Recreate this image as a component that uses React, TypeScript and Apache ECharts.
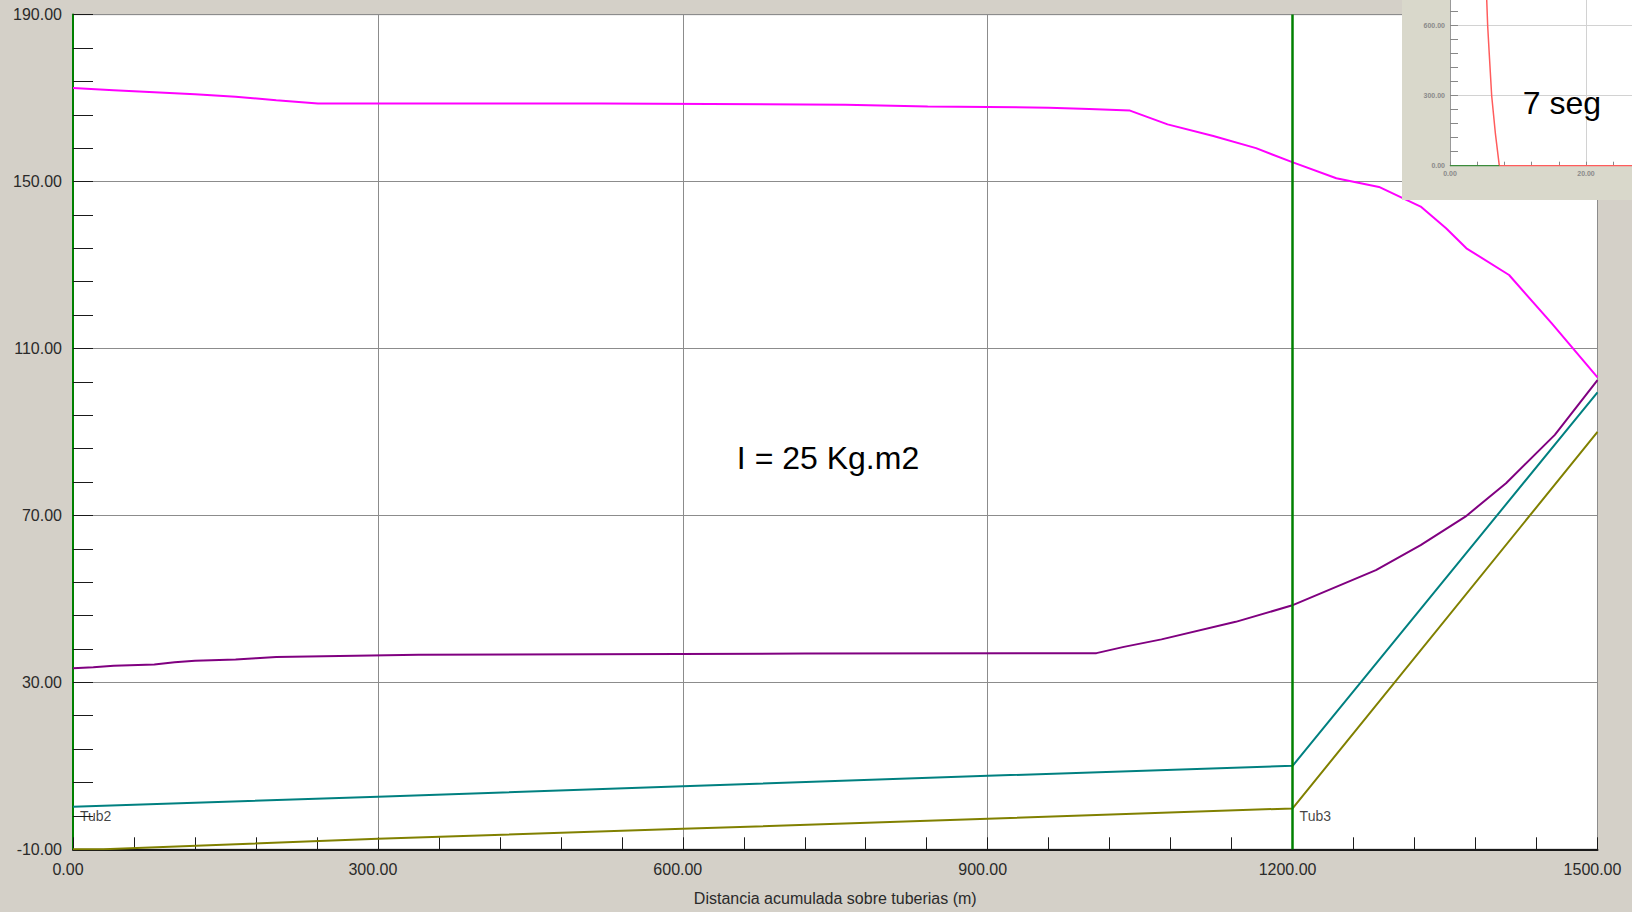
import React, { useEffect, useRef } from "react";
import * as echarts from "echarts";

// ---- Main chart data (distance m, head m) ----
const xTicks = { min: 0, max: 1500, step: 300 };
const yTicks = { min: -10, max: 190, step: 40 };

const envolventeMaxima: [number, number][] = [
  [0, 172.4], [40, 171.9], [80, 171.4], [120, 170.9], [160, 170.3], [200, 169.5],
  [241, 168.7], [520, 168.7], [760, 168.4], [841, 168.0], [960, 167.7], [1000, 167.4],
  [1040, 167.0], [1077, 163.7], [1122, 160.9], [1164, 158.0], [1199, 154.7],
  [1243, 150.8], [1285, 148.7], [1326, 144.0], [1351, 138.8], [1371, 134.0],
  [1413, 127.6], [1455, 116.0], [1500, 103.1],
];

const envolventeMinima: [number, number][] = [
  [0, 33.4], [20, 33.6], [40, 34.0], [80, 34.3], [100, 34.8], [120, 35.2], [160, 35.5],
  [180, 35.8], [200, 36.1], [340, 36.6], [720, 36.9], [1007, 37.0], [1034, 38.5],
  [1071, 40.3], [1144, 44.5], [1199, 48.4], [1282, 56.9], [1326, 62.9], [1370, 69.7],
  [1410, 77.7], [1458, 89.3], [1500, 102.4],
];

const lineaTeal: [number, number][] = [
  [0, 0.2], [300, 2.6], [600, 5.1], [900, 7.6], [1200, 10.0], [1500, 99.5],
];

const lineaOliva: [number, number][] = [
  [0, -10], [30, -10], [300, -7.5], [600, -5.1], [900, -2.7], [1200, -0.2], [1500, 90.0],
];

const nodos = [
  { x: 0, y: -2, name: "Tub2" },
  { x: 1200, y: -2, name: "Tub3" },
];

const xAxisName = "Distancia acumulada sobre tuberias (m)";
const inerciaTexto = "I = 25 Kg.m2";

// ---- Inset chart data (time s, value) ----
const insetX = { min: 0, max: 40, step: 20 };
const insetY = { min: 0, max: 900, step: 300 };
const insetRojo: [number, number][] = [
  [5.4, 710], [5.54, 600], [5.74, 496], [6.13, 300], [6.67, 139], [7.25, 0], [28, 0],
];
const insetVerde: [number, number][] = [
  [0, 0], [7.25, 0],
];
const insetTexto = "7 seg";

const FONT = "Liberation Sans, Arial, sans-serif";
const fmt2 = (v: number) => v.toFixed(2);

export default function App() {
  const ref = useRef<HTMLDivElement>(null);

  useEffect(() => {
    if (!ref.current) return;
    const chart = echarts.init(ref.current, undefined, { renderer: "svg" });

    const mainLine = (data: [number, number][], color: string, extra: any = {}) => ({
      type: "line",
      xAxisIndex: 0,
      yAxisIndex: 0,
      data,
      symbol: "none",
      showSymbol: false,
      silent: true,
      z: 2,
      lineStyle: { color, width: 2 },
      ...extra,
    });

    const option: any = {
      animation: false,
      backgroundColor: "#D4D0C8",
      textStyle: { fontFamily: FONT },
      grid: [
        {
          left: 73, top: 14.6, right: 34.5, bottom: 62.7,
          outerBoundsMode: "none", containLabel: false,
          show: true, backgroundColor: "#ffffff", borderColor: "#555555", borderWidth: 1,
        },
        {
          left: 1450, top: -44.3, right: -90, bottom: 746.3,
          outerBoundsMode: "none", containLabel: false,
          show: true, backgroundColor: "#ffffff", borderWidth: 0, z: 11,
        },
      ],
      xAxis: [
        {
          type: "value", gridIndex: 0,
          min: xTicks.min, max: xTicks.max, interval: xTicks.step,
          axisLine: { show: true, onZero: false, lineStyle: { color: "#1a1a1a", width: 2 } },
          axisTick: { show: true, inside: true, length: 12, lineStyle: { color: "#1a1a1a", width: 1 } },
          minorTick: { show: true, splitNumber: 5, length: 12, lineStyle: { color: "#1a1a1a", width: 1 } },
          splitLine: { show: true, lineStyle: { color: "#8c8c8c", width: 1 } },
          axisLabel: {
            formatter: fmt2, fontSize: 16, color: "#2a2a2a", margin: 12,
            padding: [0, 10, 0, 0], fontFamily: FONT,
          },
          name: xAxisName, nameLocation: "middle", nameGap: 41,
          nameTextStyle: { fontSize: 16, color: "#2a2a2a", fontFamily: FONT },
        },
        {
          type: "value", gridIndex: 1, z: 12,
          min: insetX.min, max: insetX.max, interval: insetX.step,
          axisLine: { show: true, onZero: false, lineStyle: { color: "#999999", width: 1 } },
          axisTick: { show: true, inside: true, length: 4, lineStyle: { color: "#888888" } },
          minorTick: { show: true, splitNumber: 5, length: 4, lineStyle: { color: "#888888" } },
          splitLine: { show: true, lineStyle: { color: "#d2d2d2" } },
          axisLabel: {
            formatter: fmt2, fontSize: 7, fontWeight: "bold", color: "#8a8a8a",
            margin: 4, showMaxLabel: false, fontFamily: FONT,
          },
        },
      ],
      yAxis: [
        {
          type: "value", gridIndex: 0,
          min: yTicks.min, max: yTicks.max, interval: yTicks.step,
          axisLine: { show: true, onZero: false, lineStyle: { color: "#008000", width: 2 } },
          axisTick: { show: true, inside: true, length: 20, lineStyle: { color: "#1a1a1a", width: 1 } },
          minorTick: { show: true, splitNumber: 5, length: 20, lineStyle: { color: "#1a1a1a", width: 1 } },
          splitLine: { show: true, lineStyle: { color: "#8c8c8c", width: 1 } },
          axisLabel: { formatter: fmt2, fontSize: 16, color: "#2a2a2a", margin: 11, fontFamily: FONT },
        },
        {
          type: "value", gridIndex: 1, z: 12,
          min: insetY.min, max: insetY.max, interval: insetY.step,
          axisLine: { show: true, onZero: false, lineStyle: { color: "#999999", width: 1 } },
          axisTick: { show: true, inside: true, length: 8, lineStyle: { color: "#888888" } },
          minorTick: { show: true, splitNumber: 5, length: 8, lineStyle: { color: "#888888" } },
          splitLine: { show: true, lineStyle: { color: "#d2d2d2" } },
          axisLabel: {
            formatter: fmt2, fontSize: 7, fontWeight: "bold", color: "#8a8a8a",
            margin: 5, showMaxLabel: false, fontFamily: FONT,
          },
        },
      ],
      series: [
        mainLine(lineaOliva, "#808000"),
        mainLine(lineaTeal, "#008080"),
        mainLine(envolventeMinima, "#800080"),
        mainLine(envolventeMaxima, "#FF00FF", {
          markLine: {
            silent: true,
            symbol: "none",
            label: { show: false },
            lineStyle: { color: "#008000", width: 2.5, type: "solid" },
            data: nodos.filter((n) => n.x > xTicks.min).map((n) => ({ xAxis: n.x })),
          },
        }),
        {
          type: "scatter",
          xAxisIndex: 0,
          yAxisIndex: 0,
          symbolSize: 0,
          silent: true,
          z: 5,
          data: nodos.map((n) => ({ value: [n.x, n.y], name: n.name })),
          label: {
            show: true, position: "right", distance: 7, formatter: "{b}",
            fontSize: 14, color: "#111111", fontFamily: FONT,
          },
        },
        {
          type: "line",
          xAxisIndex: 1,
          yAxisIndex: 1,
          data: insetRojo,
          symbol: "none",
          silent: true,
          z: 13,
          lineStyle: { color: "#ff5c5c", width: 1.5 },
        },
        {
          type: "line",
          xAxisIndex: 1,
          yAxisIndex: 1,
          data: insetVerde,
          symbol: "none",
          silent: true,
          z: 14,
          lineStyle: { color: "#3c8c3c", width: 1.5 },
        },
      ],
      graphic: [
        {
          type: "rect",
          z: 10,
          silent: true,
          shape: { x: 1402, y: 0, width: 230, height: 200 },
          style: { fill: "#D9D8CB" },
        },
        {
          type: "text",
          z: 6,
          silent: true,
          x: 828,
          y: 458,
          style: {
            text: inerciaTexto, fontSize: 32, fontFamily: FONT, fill: "#000000",
            align: "center", verticalAlign: "middle",
            textAlign: "center", textVerticalAlign: "middle",
          },
        },
        {
          type: "text",
          z: 20,
          silent: true,
          x: 1562,
          y: 102.5,
          style: {
            text: insetTexto, fontSize: 32, fontFamily: FONT, fill: "#000000",
            align: "center", verticalAlign: "middle",
            textAlign: "center", textVerticalAlign: "middle",
          },
        },
      ],
    };

    chart.setOption(option);
    return () => chart.dispose();
  }, []);

  return (
    <div
      ref={ref}
      style={{ position: "fixed", left: 0, top: 0, width: 1632, height: 912 }}
    />
  );
}
